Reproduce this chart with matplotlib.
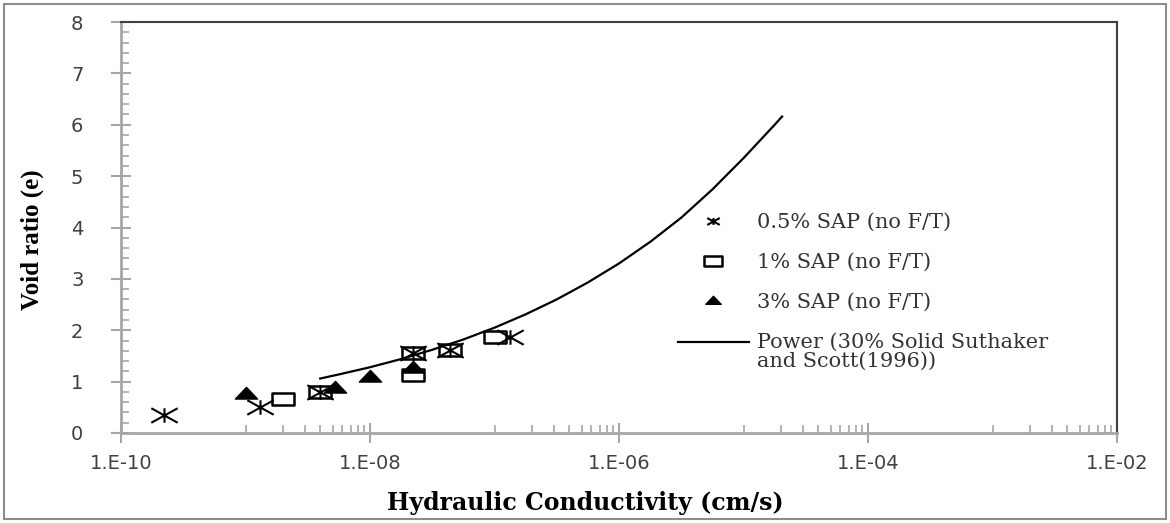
import matplotlib
matplotlib.use("Agg")
import matplotlib.pyplot as plt
import numpy as np
from matplotlib.path import Path
from matplotlib.patches import Rectangle
from matplotlib.transforms import Affine2D
from matplotlib.ticker import FixedLocator, NullFormatter

# data
k_half = [2.2e-10, 1.3e-9, 3.98e-9, 2.23e-8, 4.4e-8, 1.33e-7]
e_half = [0.35, 0.50, 0.80, 1.55, 1.61, 1.86]

k_one = [2.0e-9, 3.98e-9, 2.23e-8, 2.23e-8, 4.4e-8, 1.0e-7]
e_one = [0.66, 0.80, 1.55, 1.13, 1.61, 1.86]

k_three = [1.0e-9, 5.2e-9, 1.0e-8, 2.2e-8]
e_three = [0.77, 0.90, 1.10, 1.28]

# power trendline (Suthaker and Scott 1996)
k_power = [3.98e-9, 5.62e-9, 1e-8, 1.78e-8, 3.16e-8, 5.62e-8, 1e-7, 1.78e-7, 3.16e-7,
           5.62e-7, 1e-6, 1.78e-6, 3.16e-6, 5.62e-6, 1e-5, 1.78e-5, 2.04e-5]
e_power = [1.06, 1.14, 1.28, 1.44, 1.62, 1.82, 2.05, 2.31, 2.60,
           2.93, 3.30, 3.72, 4.19, 4.74, 5.35, 6.00, 6.16]

x_ticks = [1e-10, 1e-8, 1e-6, 1e-4, 1e-2]
x_ticklabels = ["1.E-10", "1.E-08", "1.E-06", "1.E-04", "1.E-02"]
y_ticks = [0, 1, 2, 3, 4, 5, 6, 7, 8]

labels = ["0.5% SAP (no F/T)", "1% SAP (no F/T)", "3% SAP (no F/T)",
          "Power (30% Solid Suthaker\nand Scott(1996))"]

# wide (stretched) marker shapes
w, h = 1.0, 0.55
star = Path([(0, -h), (0, h), (-w, -h), (w, h), (-w, h), (w, -h)],
            [Path.MOVETO, Path.LINETO, Path.MOVETO, Path.LINETO, Path.MOVETO, Path.LINETO])
box = Path([(-w, -h), (w, -h), (w, h), (-w, h), (-w, -h)],
           [Path.MOVETO, Path.LINETO, Path.LINETO, Path.LINETO, Path.CLOSEPOLY])
tri = Path([(-w, -0.5), (w, -0.5), (0, 0.55), (-w, -0.5)],
           [Path.MOVETO, Path.LINETO, Path.LINETO, Path.CLOSEPOLY])

fig = plt.figure(figsize=(11.7, 5.23), dpi=100)
ax = fig.add_axes([121 / 1170, 1 - 433 / 523, 996 / 1170, 411 / 523])

ax.plot(k_half, e_half, linestyle="none", marker=star, markersize=19,
        markerfacecolor="none", markeredgecolor="black", markeredgewidth=1.5, label=labels[0])
ax.plot(k_one, e_one, linestyle="none", marker=box, markersize=16.5,
        markerfacecolor="none", markeredgecolor="black", markeredgewidth=1.8, label=labels[1])
ax.plot(k_three, e_three, linestyle="none", marker=tri, markersize=16,
        markerfacecolor="black", markeredgecolor="black", markeredgewidth=1, label=labels[2])
ax.plot(k_power, e_power, color="black", linewidth=1.6, label=labels[3])

ax.set_xscale("log")
ax.set_xlim(1e-10, 1e-2)
ax.set_ylim(0, 8)

ax.xaxis.set_major_locator(FixedLocator(x_ticks))
ax.set_xticklabels(x_ticklabels)
minor_x = [m * d for d in [1e-9, 1e-7, 1e-5, 1e-3] for m in range(1, 10)]
ax.xaxis.set_minor_locator(FixedLocator(minor_x))
ax.xaxis.set_minor_formatter(NullFormatter())
ax.set_yticks(y_ticks)
ax.yaxis.set_minor_locator(FixedLocator(np.arange(0, 8.01, 0.2)))

grey = "#a6a6a6"
ax.tick_params(axis="both", which="major", direction="inout", length=14, width=1.5,
               color=grey, labelcolor="#404040", labelsize=14)
ax.tick_params(axis="both", which="minor", direction="in", length=6, width=1.2, color=grey)
ax.tick_params(axis="y", which="major", pad=20)
ax.tick_params(axis="x", which="major", pad=8)
for lab in ax.get_xticklabels() + ax.get_yticklabels():
    lab.set_family("DejaVu Sans")

for s in ["left", "bottom"]:
    ax.spines[s].set_color(grey)
    ax.spines[s].set_linewidth(2)
for s in ["top", "right"]:
    ax.spines[s].set_color("#404040")
    ax.spines[s].set_linewidth(1.5)

ax.set_ylabel("Void ratio (e)", family="Liberation Serif", fontweight="bold", fontsize=18)
ax.yaxis.set_label_coords(-0.077, 0.47)
ax.set_xlabel("Hydraulic Conductivity (cm/s)", family="DejaVu Serif", fontweight="bold", fontsize=17)
ax.xaxis.set_label_coords(0.466, -0.14)

leg = ax.legend(loc="upper left", bbox_to_anchor=(0.559, 0.535), frameon=False,
                prop={"family": "DejaVu Serif", "size": 15}, handlelength=3.4,
                handletextpad=0.4, labelspacing=1.0, borderpad=0, borderaxespad=0)
for hnd, ms in zip(leg.legend_handles[:3], [9, 13, 11]):
    hnd.set_markersize(ms)
for t in leg.get_texts():
    t.set_color("#333333")
leg.get_texts()[3].set_linespacing(1.0)
# put the trendline handle level with the first line of its label
pw = leg.legend_handles[3]
pw.set_transform(pw.get_transform() + Affine2D().translate(0, 10))

fig.patches.append(Rectangle((4 / 1170, 4 / 523), 1162 / 1170, 515 / 523, transform=fig.transFigure,
                             fill=False, edgecolor="#8c8c8c", linewidth=1.5))

fig.savefig("out.png", dpi=100)
